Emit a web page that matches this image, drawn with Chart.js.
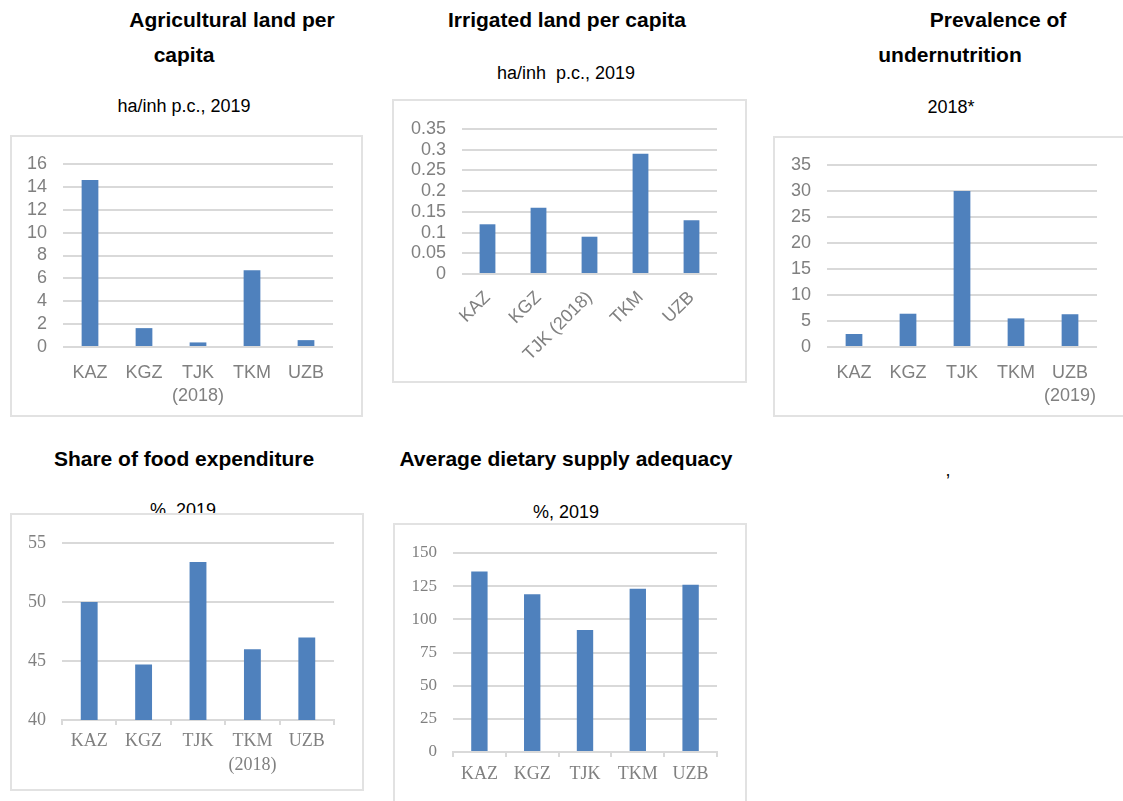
<!DOCTYPE html>
<html>
<head>
<meta charset="utf-8">
<script src="https://cdn.jsdelivr.net/npm/chart.js@4.4.1/dist/chart.umd.min.js"></script>
<style>
  html, body { margin:0; padding:0; background:#fff; }
  body { width:1123px; height:801px; overflow:hidden; position:relative; font-family:"Liberation Sans", Arial, sans-serif; }
  .t { position:absolute; white-space:nowrap; transform:translateX(-50%); color:#000; line-height:24px; height:24px; }
  .b { font-weight:bold; font-size:21px; }
  .s { font-size:18px; }
  .box { position:absolute; border:2px solid #e2e2e2; background:#fff; z-index:2; box-sizing:border-box; }
  .box canvas { display:block; }
</style>
</head>
<body>
<!-- titles -->
<div class="t b" style="left:232px; top:8px;">Agricultural land per</div>
<div class="t b" style="left:184px; top:43px;">capita</div>
<div class="t s" style="left:184px; top:94px;">ha/inh p.c., 2019</div>

<div class="t b" style="left:567px; top:8px;">Irrigated land per capita</div>
<div class="t s" style="left:566px; top:61px;">ha/inh&nbsp; p.c., 2019</div>

<div class="t b" style="left:998px; top:8px;">Prevalence of</div>
<div class="t b" style="left:950px; top:43px;">undernutrition</div>
<div class="t s" style="left:951px; top:95px;">2018*</div>

<div class="t b" style="left:184px; top:447px;">Share of food expenditure</div>
<div class="t s" style="left:183px; top:498px;">%, 2019</div>

<div class="t b" style="left:566px; top:447px;">Average dietary supply adequacy</div>
<div class="t s" style="left:566px; top:500px;">%, 2019</div>

<div class="t s" style="left:948px; top:458px;">,</div>

<div id="box1" class="box"><canvas id="c1"></canvas></div>
<div id="box2" class="box"><canvas id="c2"></canvas></div>
<div id="box3" class="box"><canvas id="c3"></canvas></div>
<div id="box4" class="box"><canvas id="c4"></canvas></div>
<div id="box5" class="box"><canvas id="c5"></canvas></div>

<script>
// ---------------- DATA ----------------
const categories1 = ['KAZ', 'KGZ', ['TJK', '(2018)'], 'TKM', 'UZB'];
const agriLandPerCapita = [14.6, 1.65, 0.4, 6.7, 0.6];
const agriTicks = [0, 16, 2];          // min, max, step

const categories2 = ['KAZ', 'KGZ', 'TJK (2018)', 'TKM', 'UZB'];
const irrigLandPerCapita = [0.12, 0.16, 0.09, 0.29, 0.13];
const irrigTicks = [0, 0.35, 0.05];

const categories3 = ['KAZ', 'KGZ', 'TJK', 'TKM', ['UZB', '(2019)']];
const undernutrition = [2.5, 6.4, 30.0, 5.5, 6.3];
const underTicks = [0, 35, 5];

const categories4 = ['KAZ', 'KGZ', 'TJK', ['TKM', '(2018)'], 'UZB'];
const foodExpenditureShare = [50.0, 44.7, 53.4, 46.0, 47.0];
const foodTicks = [40, 55, 5];

const categories5 = ['KAZ', 'KGZ', 'TJK', 'TKM', 'UZB'];
const dietaryAdequacy = [136, 119, 92, 123, 126];
const dietTicks = [0, 150, 25];

// ---------------- LAYOUT ----------------
const BAR = '#4F81BD';
const GRID = '#d9d9d9';
const TICK = '#808080';
const SANS = 'Liberation Sans';
const SERIF = 'Liberation Serif';
const BORDER = 2;

function build(n, box, plot, labels, values, range, opt) {
  const [bl, bt, bw, bh] = box;
  const el = document.getElementById('box' + n);
  el.style.left = bl + 'px'; el.style.top = bt + 'px';
  el.style.width = bw + 'px'; el.style.height = bh + 'px';
  const cw = bw - 2 * BORDER, ch = bh - 2 * BORDER;
  const cv = document.getElementById('c' + n);
  cv.width = cw; cv.height = ch;
  cv.style.width = cw + 'px'; cv.style.height = ch + 'px';
  const ox = bl + BORDER, oy = bt + BORDER;
  const pl = plot[0] - ox, pt = plot[1] - oy, pr = plot[2] - ox, pb = plot[3] - oy;
  const yW = pl, xH = ch - pb;
  new Chart(cv, {
    type: 'bar',
    data: { labels: labels, datasets: [{ data: values, backgroundColor: BAR, borderWidth: 0,
      barPercentage: 0.31, categoryPercentage: 1 }] },
    options: {
      responsive: false, animation: false, devicePixelRatio: 1,
      layout: { padding: { left: 0, top: pt, right: cw - pr, bottom: 0 } },
      plugins: { legend: { display: false }, tooltip: { enabled: false }, title: { display: false } },
      scales: {
        x: {
          grid: { display: opt.tickMarks, drawOnChartArea: false, drawTicks: true, tickLength: 5, color: GRID, lineWidth: 2, offset: true },
          border: { display: opt.tickMarks, color: GRID, width: 2 },
          ticks: { color: TICK, font: { family: opt.font, size: opt.xSize, lineHeight: opt.lh },
                   padding: opt.xPad, autoSkip: false, maxRotation: opt.rot, minRotation: opt.rot },
          afterFit: s => { s.height = xH; }
        },
        y: {
          min: range[0], max: range[1],
          ticks: { stepSize: range[2], autoSkip: false, color: TICK, font: { family: opt.font, size: opt.ySize, lineHeight: 1 }, padding: 16,
                   callback: v => String(+Number(v).toFixed(2)) },
          grid: { color: GRID, lineWidth: 2, drawTicks: false },
          border: { display: false },
          afterFit: s => { s.width = yW; }
        }
      }
    }
  });
}

build(1, [10, 135, 353, 282], [63, 164, 333, 347], categories1, agriLandPerCapita, agriTicks,
  { font: SANS, xSize: 18, ySize: 18, lh: 1.25, xPad: 10, rot: 0, tickMarks: false });
build(2, [392, 99, 355, 284], [462, 129, 717, 274], categories2, irrigLandPerCapita, irrigTicks,
  { font: SANS, xSize: 18, ySize: 18, lh: 1.2, xPad: 8, rot: 45, tickMarks: false });
build(3, [773, 136, 360, 281], [827, 165, 1097, 347], categories3, undernutrition, underTicks,
  { font: SANS, xSize: 18, ySize: 18, lh: 1.25, xPad: 10, rot: 0, tickMarks: false });
build(4, [10, 513, 354, 278], [62, 543, 334, 720], categories4, foodExpenditureShare, foodTicks,
  { font: SERIF, xSize: 18, ySize: 18, lh: 1.33, xPad: 4, rot: 0, tickMarks: true });
build(5, [393, 523, 354, 285], [453, 553, 717, 752], categories5, dietaryAdequacy, dietTicks,
  { font: SERIF, xSize: 18, ySize: 17, lh: 1.25, xPad: 6, rot: 0, tickMarks: true });
</script>
</body>
</html>
